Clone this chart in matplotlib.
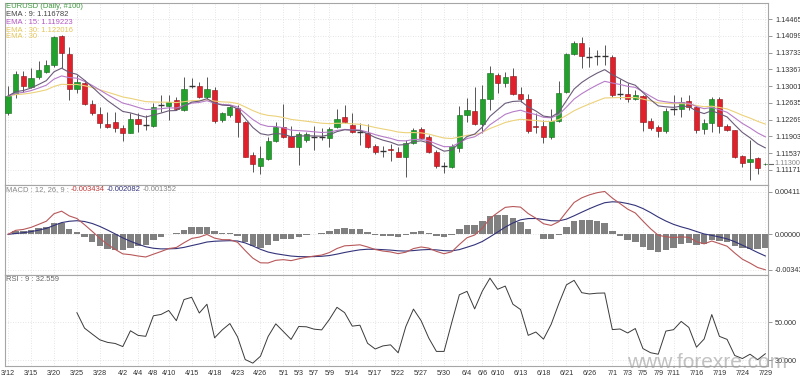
"""EURUSD daily chart: candles with EMA 9/15/30, MACD(12,26,9) and RSI(9)."""

import matplotlib
matplotlib.use("Agg")
import matplotlib.pyplot as plt
from matplotlib.text import Annotation
import numpy as np
import pandas as pd

# --- data (100 daily bars, 2019-03-12 .. 2019-07-29) ---
opens = [
    1.12404, 1.12826, 1.13219, 1.12972, 1.13205, 1.13314, 1.13460, 1.14094, 1.13693, 1.12928,
    1.13074, 1.12608, 1.12389, 1.12163, 1.12214, 1.12083, 1.11981, 1.12273, 1.12149, 1.12127,
    1.12578, 1.12571, 1.12695, 1.12476, 1.13001, 1.13001, 1.12753, 1.12914, 1.12258, 1.12367,
    1.12513, 1.12222, 1.11493, 1.11260, 1.11406, 1.11806, 1.12098, 1.11908, 1.11675, 1.11821,
    1.11894, 1.11879, 1.11857, 1.12098, 1.12316, 1.12156, 1.12003, 1.11981, 1.11690, 1.11588,
    1.11620, 1.11551, 1.11457, 1.11763, 1.12054, 1.11894, 1.11551, 1.11260, 1.11238, 1.11639,
    1.12367, 1.12462, 1.12163, 1.12710, 1.13234, 1.13074, 1.13219, 1.12826, 1.12717, 1.12120,
    1.12134, 1.11894, 1.12236, 1.12877, 1.13693, 1.13948, 1.13627, 1.13657, 1.13664, 1.13627,
    1.12819, 1.12819, 1.12724, 1.12790, 1.12243, 1.12098, 1.12018, 1.12491, 1.12491, 1.12680,
    1.12535, 1.12054, 1.12200, 1.12717, 1.12134, 1.12040, 1.11479, 1.11340, 1.11420, 1.11290,
]
highs = [
    1.13001, 1.13336, 1.13336, 1.13387, 1.13547, 1.13569, 1.14094, 1.14115, 1.13860, 1.13241,
    1.13132, 1.12695, 1.12549, 1.12440, 1.12440, 1.12149, 1.12404, 1.12404, 1.12367, 1.12622,
    1.12804, 1.12804, 1.12768, 1.13190, 1.13168, 1.13096, 1.13190, 1.12972, 1.12440, 1.12564,
    1.12586, 1.12243, 1.11566, 1.11690, 1.11894, 1.12222, 1.12608, 1.12127, 1.12003, 1.12003,
    1.12127, 1.12076, 1.12112, 1.12491, 1.12586, 1.12404, 1.12185, 1.12171, 1.11734, 1.11690,
    1.11734, 1.11675, 1.11821, 1.12076, 1.12112, 1.11930, 1.11602, 1.11348, 1.11734, 1.12564,
    1.12731, 1.12986, 1.13023, 1.13438, 1.13278, 1.13314, 1.13387, 1.12972, 1.12826, 1.12404,
    1.12258, 1.12491, 1.13118, 1.13715, 1.13992, 1.14079, 1.13860, 1.13788, 1.13897, 1.13678,
    1.13147, 1.13059, 1.12914, 1.12804, 1.12294, 1.12149, 1.12513, 1.12804, 1.12768, 1.12804,
    1.12564, 1.12273, 1.12768, 1.12768, 1.12163, 1.12040, 1.11493, 1.11821, 1.11442, 1.11310,
]
lows = [
    1.12367, 1.12731, 1.12877, 1.12950, 1.13147, 1.13278, 1.13423, 1.13387, 1.12695, 1.12841,
    1.12586, 1.12367, 1.12076, 1.12076, 1.12003, 1.11806, 1.11967, 1.12003, 1.12040, 1.12098,
    1.12440, 1.12258, 1.12476, 1.12455, 1.12950, 1.12731, 1.12724, 1.12200, 1.12222, 1.12331,
    1.11879, 1.11442, 1.11129, 1.11071, 1.11384, 1.11785, 1.11857, 1.11661, 1.11275, 1.11785,
    1.11602, 1.11821, 1.11675, 1.12076, 1.12185, 1.11967, 1.11712, 1.11639, 1.11515, 1.11457,
    1.11369, 1.11442, 1.11020, 1.11734, 1.11836, 1.11544, 1.11202, 1.11107, 1.11202, 1.11566,
    1.12222, 1.12149, 1.11967, 1.12476, 1.12841, 1.12972, 1.12804, 1.12659, 1.11981, 1.11981,
    1.11763, 1.11836, 1.12207, 1.12855, 1.13671, 1.13387, 1.13423, 1.13460, 1.13460, 1.12768,
    1.12710, 1.12659, 1.12695, 1.12025, 1.12040, 1.11894, 1.11981, 1.12367, 1.12331, 1.12476,
    1.11981, 1.11952, 1.12003, 1.11981, 1.12018, 1.11420, 1.11224, 1.10947, 1.11078, 1.11280,
]
closes = [
    1.12782, 1.13263, 1.13001, 1.13168, 1.13351, 1.13453, 1.14079, 1.13715, 1.12928, 1.13088,
    1.12608, 1.12404, 1.12200, 1.12112, 1.12076, 1.11981, 1.12287, 1.12171, 1.12149, 1.12549,
    1.12578, 1.12659, 1.12491, 1.12943, 1.13001, 1.12753, 1.12943, 1.12243, 1.12404, 1.12535,
    1.12222, 1.11457, 1.11297, 1.11420, 1.11806, 1.12098, 1.11894, 1.11675, 1.11952, 1.11945,
    1.11894, 1.11879, 1.12054, 1.12287, 1.12207, 1.11989, 1.12003, 1.11675, 1.11551, 1.11588,
    1.11600, 1.11457, 1.11763, 1.12040, 1.11872, 1.11566, 1.11260, 1.11260, 1.11690, 1.12367,
    1.12476, 1.12163, 1.12710, 1.13278, 1.13059, 1.13190, 1.12826, 1.12710, 1.12025, 1.12105,
    1.11894, 1.12236, 1.12855, 1.13693, 1.13948, 1.13657, 1.13627, 1.13657, 1.13664, 1.12804,
    1.12819, 1.12710, 1.12804, 1.12222, 1.12076, 1.12025, 1.12462, 1.12491, 1.12659, 1.12535,
    1.12040, 1.12185, 1.12717, 1.12134, 1.12040, 1.11457, 1.11326, 1.11406, 1.11202, 1.11300,
]

date_labels = ["3/12", "3/15", "3/20", "3/25", "3/28", "4/2", "4/4", "4/8", "4/10", "4/15",
               "4/18", "4/23", "4/26", "5/1", "5/3", "5/7", "5/9", "5/14", "5/17", "5/22",
               "5/27", "5/30", "6/4", "6/6", "6/10", "6/13", "6/18", "6/21", "6/26", "7/1",
               "7/3", "7/5", "7/9", "7/11", "7/16", "7/19", "7/24", "7/29"]
price_ticks = [1.11171, 1.11537, 1.11903, 1.12269, 1.12635, 1.13001,
               1.13367, 1.13733, 1.14099, 1.14465]
macd_ticks = [0.004117, 0.0, -0.003434]
rsi_ticks = [50.0, 30.0]


def ema(values, n):
    alpha = 2.0 / (n + 1)
    out = np.empty(len(values))
    out[0] = values[0]
    for k in range(1, len(values)):
        out[k] = alpha * values[k] + (1 - alpha) * out[k - 1]
    return out


def rsi_wilder(values, n):
    diff = np.diff(values)
    gain = np.clip(diff, 0, None)
    loss = np.clip(-diff, 0, None)
    out = np.full(len(values), np.nan)
    ag, al = gain[:n].mean(), loss[:n].mean()
    out[n] = 100 * ag / (ag + al)
    for k in range(n, len(diff)):
        ag = (ag * (n - 1) + gain[k]) / n
        al = (al * (n - 1) + loss[k]) / n
        out[k + 1] = 100 * ag / (ag + al)
    return out


o = np.array(opens)
h = np.array(highs)
l = np.array(lows)
c = np.array(closes)
x = np.arange(len(c))

dates = pd.bdate_range("2019-03-12", "2019-07-29")
date_str = [f"{d.month}/{d.day}" for d in dates]
tick_pos = [date_str.index(s) for s in date_labels]

ema9, ema15, ema30 = ema(c, 9), ema(c, 15), ema(c, 30)
macd = ema(c, 12) - ema(c, 26)
signal = ema(macd, 9)
hist = macd - signal
rsi = rsi_wilder(c, 9)

plt.rcParams["font.family"] = ["Liberation Sans", "DejaVu Sans"]
W, H = 800, 378
fig = plt.figure(figsize=(W / 100, H / 100), dpi=100)
left, right = 5, 768
aw = (right - left) / W
ax_p = fig.add_axes([left / W, 1 - 185 / H, aw, 182 / H])
ax_m = fig.add_axes([left / W, 1 - 275 / H, aw, 90 / H], sharex=ax_p)
ax_r = fig.add_axes([left / W, 1 - 366 / H, aw, 91 / H], sharex=ax_p)

GRID = "#dcdcdc"
for ax in (ax_p, ax_m, ax_r):
    ax.yaxis.tick_right()
    ax.tick_params(axis="y", length=3, width=0.6, color="#888888",
                   labelsize=5.2, labelcolor="#333333", pad=2)
    ax.tick_params(axis="x", length=0, labelsize=5.2, labelcolor="#333333", pad=3)
    ax.set_xticks(tick_pos)
    ax.grid(True, ls=(0, (1, 2)), color=GRID, lw=0.6)
    for sp in ax.spines.values():
        sp.set_color("#a6a6a6")
        sp.set_linewidth(0.8)
ax_p.set_xlim(-0.4, 99.35)
for ax in (ax_p, ax_m):
    ax.tick_params(axis="x", labelbottom=False)
ax_r.set_xticklabels(date_labels)

# --- candles ---
up = c >= o
doji = np.abs(c - o) < 0.00005
ax_p.vlines(x, l, h, color="#555555", lw=0.7, zorder=2)
body_lo = np.minimum(o, c)
body_h = np.abs(c - o)
ax_p.bar(x[up & ~doji], body_h[up & ~doji], 0.68, bottom=body_lo[up & ~doji],
         color="#22a22c", edgecolor="#156b1b", lw=0.4, zorder=3)
ax_p.bar(x[~up & ~doji], body_h[~up & ~doji], 0.68, bottom=body_lo[~up & ~doji],
         color="#e0202a", edgecolor="#8a1418", lw=0.4, zorder=3)
ax_p.hlines(c[doji], x[doji] - 0.4, x[doji] + 0.4, color="#333333", lw=1.0, zorder=3)

ax_p.plot(x, ema30, color="#ecd27a", lw=0.8, zorder=4)
ax_p.plot(x, ema15, color="#b77cc9", lw=0.8, zorder=4)
ax_p.plot(x, ema9, color="#6b5b78", lw=0.8, zorder=4)

ax_p.set_ylim(1.10838, 1.14815)
ax_p.set_yticks(price_ticks)
ax_p.set_yticklabels([f"{v:.5f}" for v in price_ticks])
ytr = ax_p.get_yaxis_transform()
ax_p.plot([1.0, 1.006], [c[-1], c[-1]], transform=ytr, color="#666666",
          lw=0.8, clip_on=False)
ax_p.text(1.009, c[-1], f"{c[-1]:.5f}", transform=ytr, fontsize=5.2,
          color="#888888", va="center", ha="left", clip_on=False)

# --- MACD ---
ax_m.bar(x, hist, 0.84, color="#808080", zorder=2)
ax_m.plot(x, signal, color="#33337a", lw=0.8, zorder=3)
ax_m.plot(x, macd, color="#b8585a", lw=0.8, zorder=3)
ax_m.set_ylim(-0.00392, 0.00475)
ax_m.set_yticks(macd_ticks)
ax_m.set_yticklabels([f"{v:.6f}" for v in macd_ticks])

# --- RSI ---
ax_r.plot(x, rsi, color="#3a3a3a", lw=0.7)
ax_r.set_ylim(27.1, 74.5)
ax_r.set_yticks(rsi_ticks)
ax_r.set_yticklabels([f"{v:.3f}" for v in rsi_ticks])


# --- header texts ---
def fpos(px, py):
    return px / W, 1 - py / H


FS = 5.5
header = [
    ("EURUSD (Daily, #100)", "#3f9b3f", 7),
    ("EMA : 9: 1.116782", "#444444", 15),
    ("EMA : 15: 1.119223", "#b455c4", 23),
    ("EMA : 30: 1.122016", "#e4c65a", 30.5),
    ("EMA : 30", "#e4c65a", 36),
]
for s, col, py in header:
    fig.text(*fpos(6, py), s, color=col, fontsize=FS, va="center", ha="left")

macd_parts = [("-0.003434", "#c03a3a"), ("-0.002082", "#34347e"),
              ("-0.001352", "#888888")]
t = fig.text(*fpos(6, 193), "MACD : 12, 26, 9 :", color="#888888", fontsize=FS,
             va="bottom", ha="left")
for s, col in macd_parts:
    t = fig.add_artist(Annotation(s, xy=(1, 0), xycoords=t, xytext=(1.5, 0),
                                  textcoords="offset points", color=col,
                                  fontsize=FS, va="bottom", ha="left"))
fig.text(*fpos(6, 283), "RSI : 9 : 32.559", color="#666666", fontsize=FS,
         va="bottom", ha="left")

fig.text(*fpos(627, 363), "www.forexre.com", fontsize=15, color="#9a9a9a",
         alpha=0.6, va="center", ha="left", zorder=10)

fig.savefig("out.png", dpi=100)
